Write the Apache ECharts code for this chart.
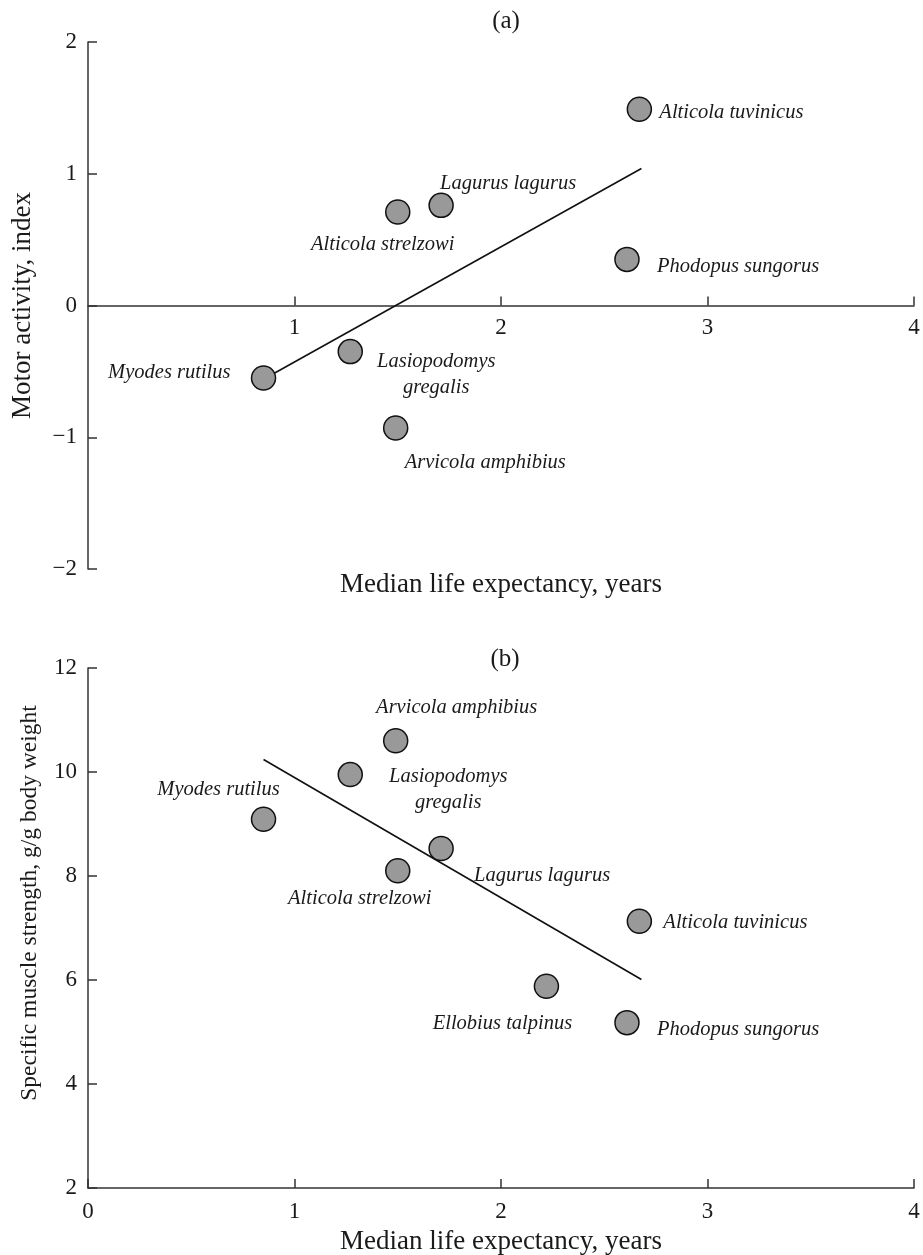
<!DOCTYPE html>
<html>
<head>
<meta charset="utf-8">
<script src="https://cdn.jsdelivr.net/npm/echarts@6/dist/echarts.min.js"></script>
<style>
  html, body { margin: 0; padding: 0; background: #fff; }
  #chart { width: 923px; height: 1255px; }
</style>
</head>
<body>
<div id="chart"></div>
<script>
  // panel (a): motor activity
  var speciesA = ['Myodes rutilus', 'Lasiopodomys\ngregalis', 'Arvicola amphibius', 'Alticola strelzowi',
    'Lagurus lagurus', 'Alticola tuvinicus', 'Phodopus sungorus'];
  var lifeA = [0.85, 1.27, 1.49, 1.50, 1.71, 2.67, 2.61];
  var activityA = [-0.55, -0.35, -0.93, 0.71, 0.76, 1.49, 0.35];
  var trendLifeA = [0.85, 2.68];
  var trendActivityA = [-0.56, 1.04];

  // panel (b): muscle strength
  var speciesB = ['Myodes rutilus', 'Lasiopodomys\ngregalis', 'Arvicola amphibius', 'Alticola strelzowi',
    'Lagurus lagurus', 'Alticola tuvinicus', 'Ellobius talpinus', 'Phodopus sungorus'];
  var lifeB = [0.85, 1.27, 1.49, 1.50, 1.71, 2.67, 2.22, 2.61];
  var strengthB = [9.09, 9.95, 10.6, 8.1, 8.53, 7.13, 5.88, 5.18];
  var trendLifeB = [0.85, 2.68];
  var trendStrengthB = [10.24, 6.01];

  // label placement relative to the marker (px)
  var labelPosA = [
    { align: 'right', offset: [-33, -5] },
    { align: 'center', offset: [86, 23] },
    { align: 'left', offset: [9, 35] },
    { align: 'center', offset: [-15, 33] },
    { align: 'left', offset: [-1, -22] },
    { align: 'left', offset: [20, 3] },
    { align: 'left', offset: [30, 7] }
  ];
  var labelPosB = [
    { align: 'center', offset: [-45, -30] },
    { align: 'center', offset: [98, 15] },
    { align: 'center', offset: [61, -33] },
    { align: 'center', offset: [-38, 28] },
    { align: 'left', offset: [33, 27] },
    { align: 'left', offset: [24, 1] },
    { align: 'center', offset: [-44, 37] },
    { align: 'left', offset: [30, 7] }
  ];

  var serif = '"Liberation Serif", "DejaVu Serif", serif';
  var ink = '#1a1a1a';

  var gridA = { left: 88, top: 42, width: 826, height: 527, outerBoundsMode: 'none' };
  var gridB = { left: 88, top: 668, width: 826, height: 520, outerBoundsMode: 'none' };
  var yMinA = -2, yMaxA = 2;
  // x axis of panel (a) sits on y = 0
  var zeroShiftA = -gridA.height * (0 - yMinA) / (yMaxA - yMinA);

  function points(xs, ys, names, pos) {
    return xs.map(function (x, i) {
      return {
        value: [x, ys[i]],
        name: names[i],
        label: { align: pos[i].align, offset: pos[i].offset }
      };
    });
  }
  function pairs(xs, ys) {
    return xs.map(function (x, i) { return [x, ys[i]]; });
  }

  var axisText = { fontFamily: serif, fontSize: 23, color: ink };
  var nameText = { fontFamily: serif, fontSize: 27, color: ink };
  var lineStyle = { color: '#333', width: 1.5 };

  var scatterStyle = {
    type: 'scatter',
    symbol: 'circle',
    symbolSize: 24,
    itemStyle: { color: '#999', borderColor: '#111', borderWidth: 1.5, opacity: 1 },
    label: {
      show: true,
      position: 'inside',
      verticalAlign: 'middle',
      formatter: '{b}',
      fontFamily: serif,
      fontStyle: 'italic',
      fontSize: 20.5,
      lineHeight: 26,
      color: ink
    },
    emphasis: { disabled: true },
    z: 3
  };

  var option = {
    animation: false,
    title: [
      { text: '(a)', left: 501, top: 4, textAlign: 'center',
        textStyle: { fontFamily: serif, fontSize: 25, fontWeight: 'normal', color: ink } },
      { text: '(b)', left: 500, top: 642, textAlign: 'center',
        textStyle: { fontFamily: serif, fontSize: 25, fontWeight: 'normal', color: ink } }
    ],
    graphic: [
      {
        type: 'text', x: 30, y: 903, rotation: Math.PI / 2,
        style: {
          text: 'Specific muscle strength, g/g body weight',
          font: '23.5px ' + serif, fill: ink, align: 'center', verticalAlign: 'middle'
        }
      }
    ],
    grid: [gridA, gridB],
    xAxis: [
      {
        gridIndex: 0, type: 'value', min: 0, max: 4, interval: 1,
        offset: zeroShiftA,
        name: 'Median life expectancy, years', nameLocation: 'middle', nameGap: 266,
        nameTextStyle: nameText,
        axisLine: { onZero: false, lineStyle: lineStyle },
        axisTick: { inside: true, length: 9, lineStyle: lineStyle },
        axisLabel: Object.assign({ margin: 11, showMinLabel: false,
          formatter: function (v) { return v === 0 ? '' : String(v); } }, axisText),
        splitLine: { show: false }
      },
      {
        gridIndex: 1, type: 'value', min: 0, max: 4, interval: 1,
        name: 'Median life expectancy, years', nameLocation: 'middle', nameGap: 40,
        nameTextStyle: nameText,
        axisLine: { onZero: false, lineStyle: lineStyle },
        axisTick: { inside: true, length: 9, lineStyle: lineStyle },
        axisLabel: Object.assign({ margin: 12 }, axisText),
        splitLine: { show: false }
      }
    ],
    yAxis: [
      {
        gridIndex: 0, type: 'value', min: yMinA, max: yMaxA, interval: 1,
        name: 'Motor activity, index', nameLocation: 'middle', nameGap: 52,
        nameTextStyle: nameText,
        axisLine: { show: true, onZero: false, lineStyle: lineStyle },
        axisTick: { show: true, inside: true, length: 9, lineStyle: lineStyle },
        axisLabel: Object.assign({ margin: 11,
          formatter: function (v) { return v < 0 ? '\u2212' + Math.abs(v) : String(v); } }, axisText),
        splitLine: { show: false }
      },
      {
        gridIndex: 1, type: 'value', min: 2, max: 12, interval: 2,
        axisLine: { show: true, onZero: false, lineStyle: lineStyle },
        axisTick: { show: true, inside: true, length: 9, lineStyle: lineStyle },
        axisLabel: Object.assign({ margin: 11 }, axisText),
        splitLine: { show: false }
      }
    ],
    series: [
      {
        type: 'line', xAxisIndex: 0, yAxisIndex: 0, data: pairs(trendLifeA, trendActivityA),
        symbol: 'none', lineStyle: { color: '#111', width: 1.6 }, silent: true, z: 2
      },
      Object.assign({}, scatterStyle, {
        xAxisIndex: 0, yAxisIndex: 0, data: points(lifeA, activityA, speciesA, labelPosA)
      }),
      {
        type: 'line', xAxisIndex: 1, yAxisIndex: 1, data: pairs(trendLifeB, trendStrengthB),
        symbol: 'none', lineStyle: { color: '#111', width: 1.6 }, silent: true, z: 2
      },
      Object.assign({}, scatterStyle, {
        xAxisIndex: 1, yAxisIndex: 1, data: points(lifeB, strengthB, speciesB, labelPosB)
      })
    ]
  };

  var myChart = echarts.init(document.getElementById('chart'));
  myChart.setOption(option);
</script>
</body>
</html>
